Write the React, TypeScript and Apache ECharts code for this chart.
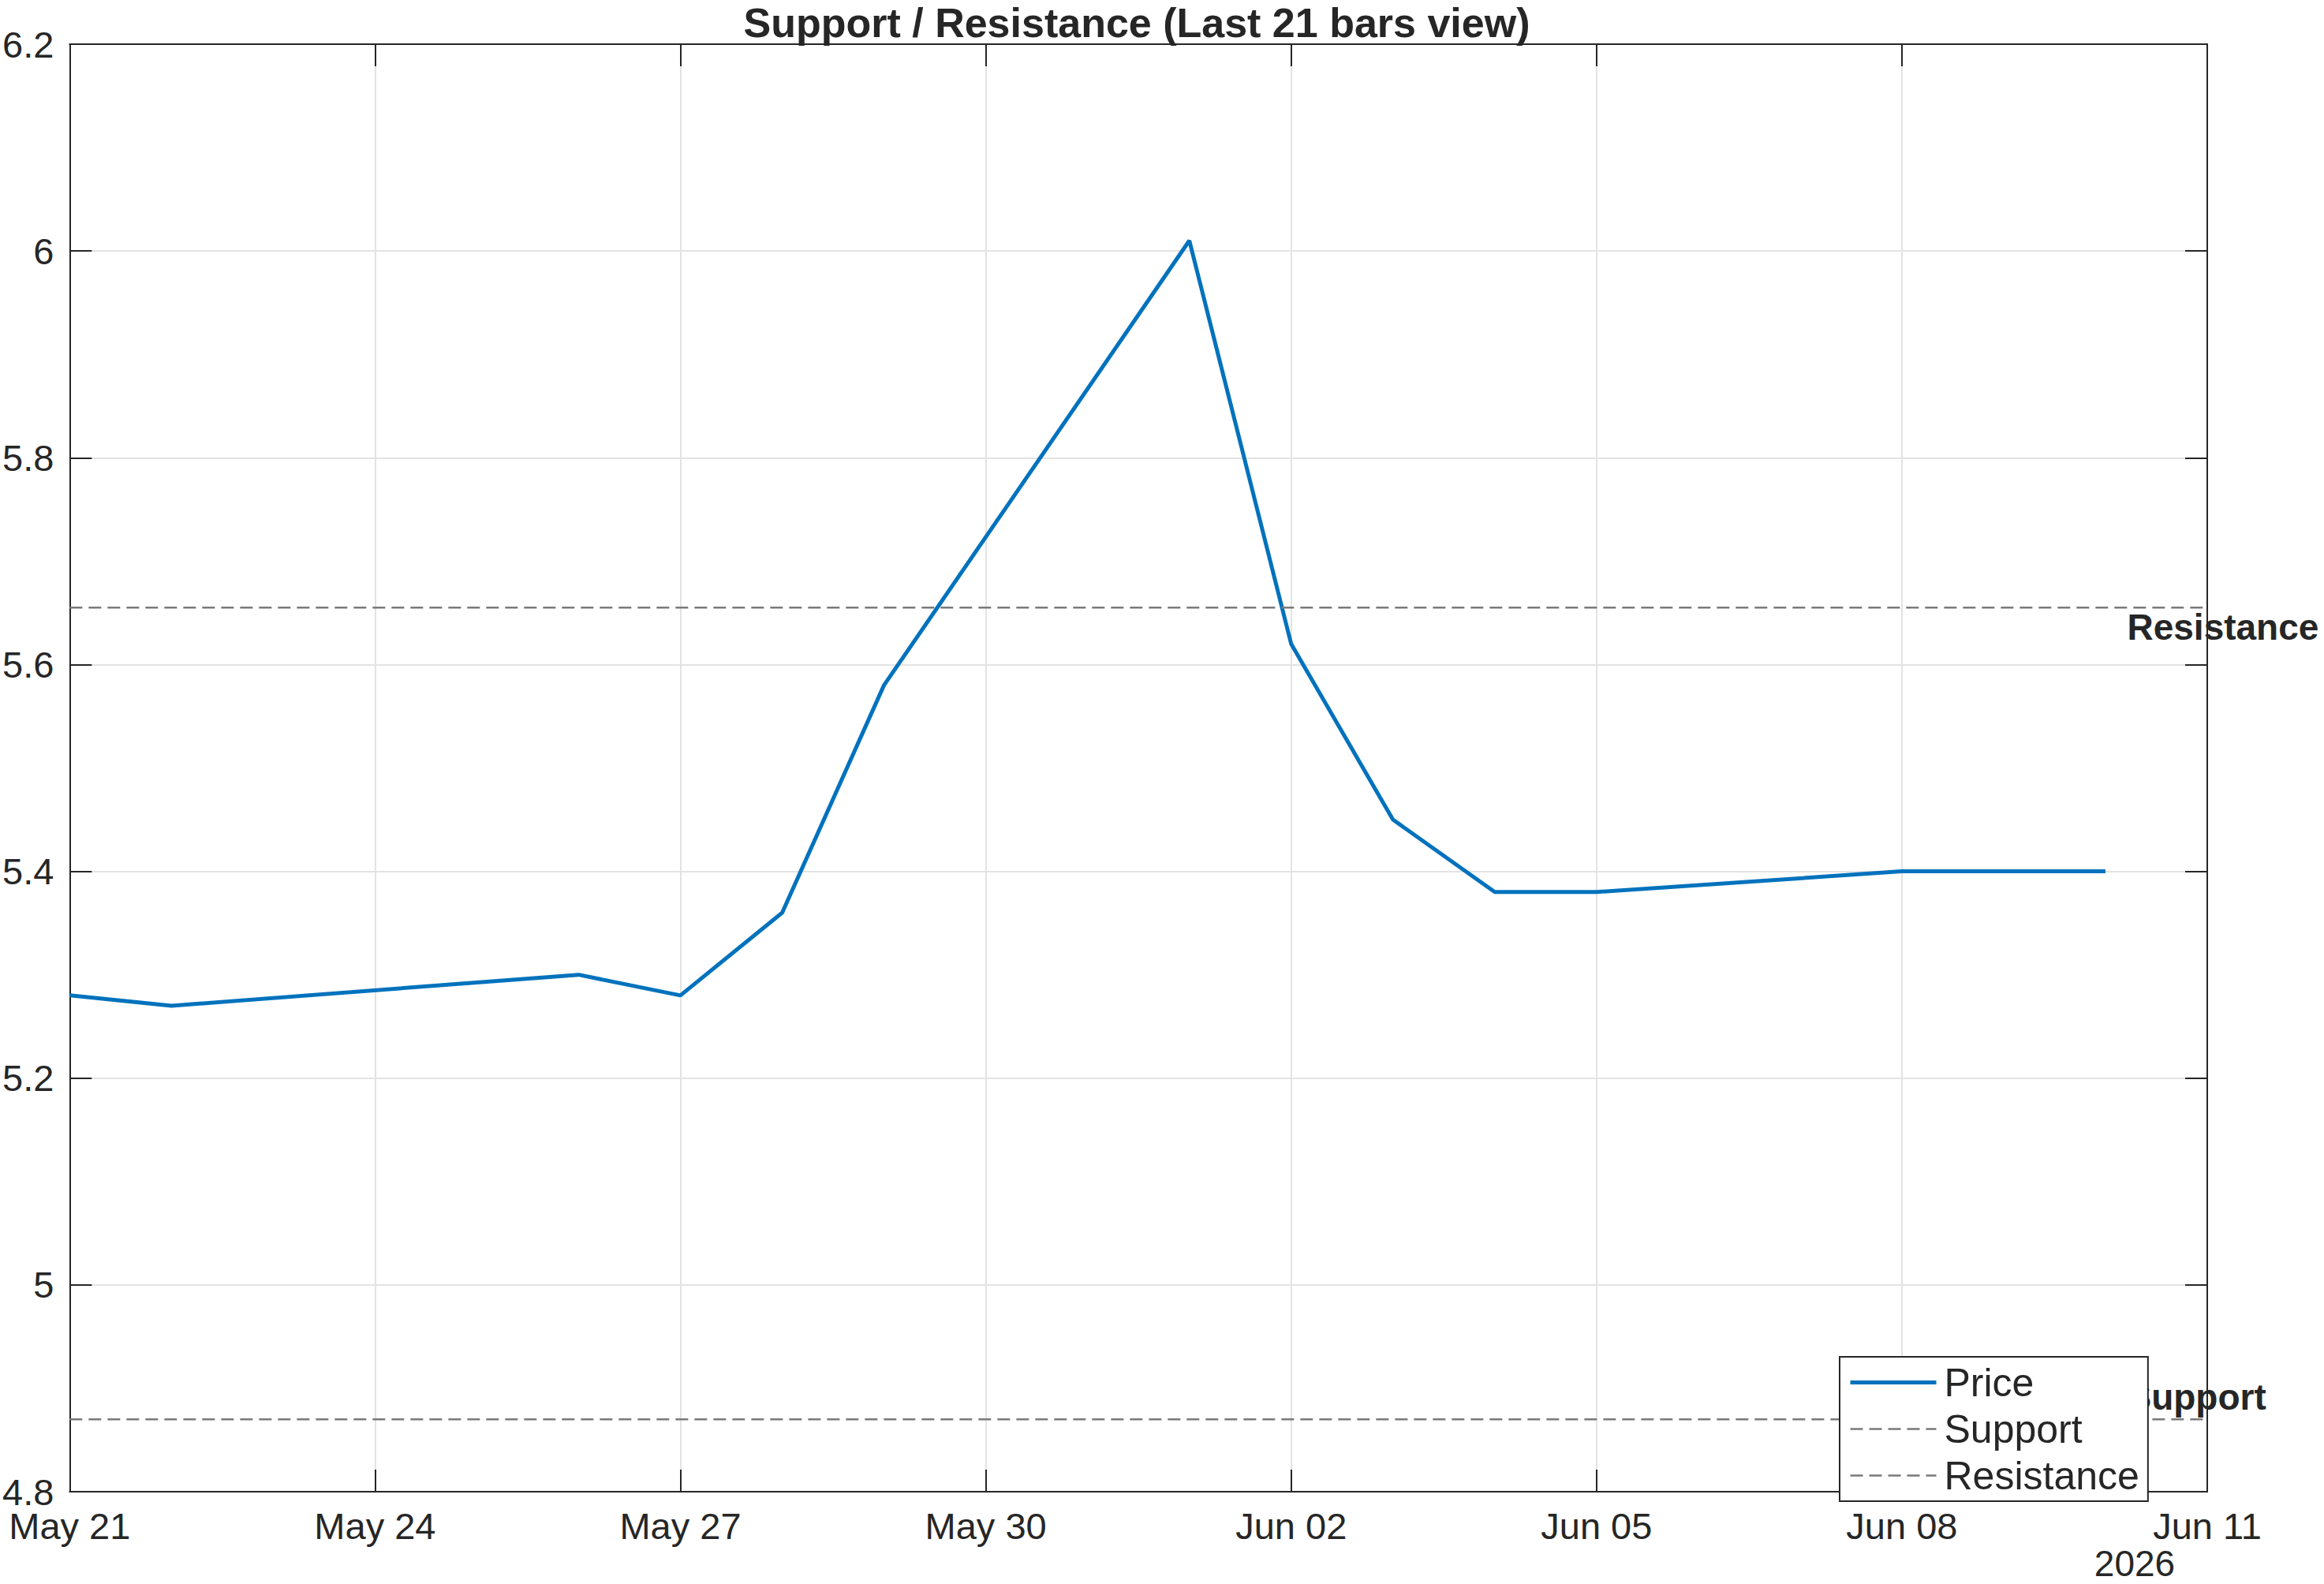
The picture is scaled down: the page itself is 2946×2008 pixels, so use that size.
import React, { useEffect, useRef } from "react";
import * as echarts from "echarts";

const titleText = "Support / Resistance (Last 21 bars view)";
const startDate = "2026-05-21";
const endDate = "2026-06-11";
const dates = [
  "2026-05-21", "2026-05-22", "2026-05-26", "2026-05-27", "2026-05-28", "2026-05-29",
  "2026-06-01", "2026-06-02", "2026-06-03", "2026-06-04", "2026-06-05", "2026-06-08",
  "2026-06-09", "2026-06-10",
];
const prices = [5.28, 5.27, 5.30, 5.28, 5.36, 5.58, 6.01, 5.62, 5.45, 5.38, 5.38, 5.40, 5.40, 5.40];
const supportLevel = 4.87;
const resistanceLevel = 5.655;
const yMin = 4.8;
const yMax = 6.2;
const yStep = 0.2;
const xStepDays = 3;
const yearLabel = "2026";
const monthNames = ["Jan", "Feb", "Mar", "Apr", "May", "Jun", "Jul", "Aug", "Sep", "Oct", "Nov", "Dec"];

const DAY = 86400000;
const toMs = (d: string) => {
  const [y, m, dd] = d.split("-").map(Number);
  return Date.UTC(y, m - 1, dd);
};
const t0 = toMs(startDate);
const dayOffset = (d: string) => (toMs(d) - t0) / DAY;
const xMax = dayOffset(endDate);
const fmtDay = (v: number) => {
  const dt = new Date(t0 + Math.round(v) * DAY);
  const day = dt.getUTCDate();
  return monthNames[dt.getUTCMonth()] + " " + (day < 10 ? "0" + day : String(day));
};

const FONT = "'Liberation Sans', Arial, Helvetica, sans-serif";
const AX = "#262626";

export default function App() {
  const ref = useRef<HTMLDivElement>(null);
  useEffect(() => {
    if (!ref.current) return;
    const chart = echarts.init(ref.current, null, { renderer: "svg" });
    const lastX = dayOffset(dates[dates.length - 1]);
    const axisBase = {
      type: "value" as const,
      min: 0,
      max: xMax,
      interval: xStepDays,
    };
    const yBase = {
      type: "value" as const,
      min: yMin,
      max: yMax,
      interval: yStep,
    };
    chart.setOption({
      animation: false,
      textStyle: { fontFamily: FONT },
      title: {
        text: titleText,
        left: 1441,
        top: 3,
        textAlign: "center",
        padding: 0,
        textStyle: { fontSize: 52, fontWeight: "bold", color: AX, fontFamily: FONT, lineHeight: 52 },
      },
      grid: { left: 85, top: 56, right: 148, bottom: 117, containLabel: false },
      legend: {
        data: [
          { name: "Price", lineStyle: { width: 5 } },
          { name: "Support", lineStyle: { width: 2.5 } },
          { name: "Resistance", lineStyle: { width: 2.5 } },
        ],
        orient: "vertical",
        left: 2332,
        top: 1720,
        itemWidth: 109,
        itemHeight: 14,
        itemGap: 0,
        padding: [3, 11, 3, 11],
        backgroundColor: "#ffffff",
        borderColor: AX,
        borderWidth: 2,
        borderRadius: 0,
        selectedMode: false,
        itemStyle: { opacity: 0 },
        lineStyle: { width: "inherit" },
        textStyle: { fontSize: 50, color: AX, lineHeight: 59, padding: [0, 0, 0, 5], fontFamily: FONT },
      },
      xAxis: [
        {
          ...axisBase,
          position: "bottom",
          axisLine: { show: true, onZero: false, lineStyle: { color: AX, width: 2 } },
          axisTick: { show: true, inside: true, length: 28, lineStyle: { color: AX, width: 2 } },
          axisLabel: { show: true, fontSize: 47, color: AX, margin: 20, formatter: (v: number) => fmtDay(v), fontFamily: FONT },
          splitLine: { show: true, lineStyle: { color: "#e3e3e3", width: 2 } },
        },
        {
          ...axisBase,
          position: "top",
          axisLine: { show: true, onZero: false, lineStyle: { color: AX, width: 2 } },
          axisTick: { show: true, inside: true, length: 28, lineStyle: { color: AX, width: 2 } },
          axisLabel: { show: false },
          splitLine: { show: false },
        },
      ],
      yAxis: [
        {
          ...yBase,
          position: "left",
          axisLine: { show: true, onZero: false, lineStyle: { color: AX, width: 2 } },
          axisTick: { show: true, inside: true, length: 28, lineStyle: { color: AX, width: 2 } },
          axisLabel: { show: true, fontSize: 47, color: AX, margin: 20, fontFamily: FONT },
          splitLine: { show: true, lineStyle: { color: "#e3e3e3", width: 2 } },
        },
        {
          ...yBase,
          position: "right",
          axisLine: { show: true, onZero: false, lineStyle: { color: AX, width: 2 } },
          axisTick: { show: true, inside: true, length: 28, lineStyle: { color: AX, width: 2 } },
          axisLabel: { show: false },
          splitLine: { show: false },
        },
      ],
      series: [
        {
          name: "Price",
          type: "line",
          xAxisIndex: 0,
          yAxisIndex: 0,
          data: dates.map((d, i) => [dayOffset(d), prices[i]]),
          symbol: "none",
          lineStyle: { color: "#0072BD", width: 5 },
          itemStyle: { color: "#0072BD" },
          z: 3,
        },
        {
          name: "Support",
          type: "line",
          xAxisIndex: 0,
          yAxisIndex: 0,
          data: [[0, supportLevel], [xMax, supportLevel]],
          symbol: "none",
          lineStyle: { color: "#7a7a7a", width: 2.5, type: [16, 8] },
          itemStyle: { color: "#7a7a7a" },
        },
        {
          name: "Resistance",
          type: "line",
          xAxisIndex: 0,
          yAxisIndex: 0,
          data: [[0, resistanceLevel], [xMax, resistanceLevel]],
          symbol: "none",
          lineStyle: { color: "#7a7a7a", width: 2.5, type: [16, 8] },
          itemStyle: { color: "#7a7a7a" },
        },
        {
          name: "levelLabels",
          type: "scatter",
          xAxisIndex: 0,
          yAxisIndex: 0,
          symbol: "circle",
          symbolSize: 1,
          silent: true,
          clip: false,
          itemStyle: { color: "rgba(0,0,0,0)", opacity: 1 },
          label: {
            show: true,
            fontSize: 46,
            fontWeight: "bold",
            color: AX,
            opacity: 1,
            textBorderWidth: 0,
            align: "left",
            verticalAlign: "middle",
            fontFamily: FONT,
          },
          data: [
            { value: [lastX, resistanceLevel], label: { formatter: "Resistance", position: [28, 25] } },
            { value: [lastX, supportLevel], label: { formatter: "Support", position: [28, -28] } },
          ],
        },
      ],
      graphic: [
        {
          type: "text",
          x: 2706,
          y: 1982,
          style: {
            text: yearLabel,
            fontSize: 46,
            lineHeight: 42,
            fill: AX,
            align: "center",
            verticalAlign: "middle",
            fontFamily: FONT,
          },
        },
      ],
    });
    return () => chart.dispose();
  }, []);
  return (
    <div
      ref={ref}
      style={{ position: "fixed", left: 0, top: 0, width: 2946, height: 2008, background: "#ffffff" }}
    />
  );
}
